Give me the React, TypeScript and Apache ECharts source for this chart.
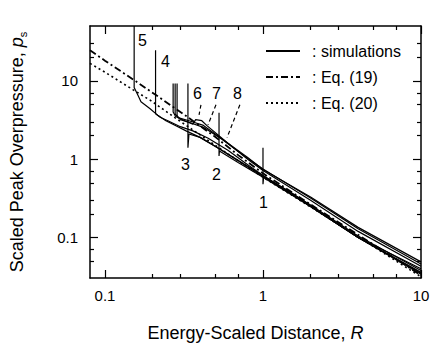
import React, { useEffect, useRef } from "react";
import * as echarts from "echarts";

// ---------- data (R = energy-scaled distance, P = scaled peak overpressure) ----------
const X_TICKS = [0.1, 1, 10];
const X_TICK_LABELS = ["0.1", "1", "10"];
const X_MINOR = [0.2, 0.3, 0.5, 0.7, 2, 3, 5, 7];
const Y_TICKS = [0.1, 1, 10];
const Y_TICK_LABELS = ["0.1", "1", "10"];
const Y_MINOR = [0.05, 0.07, 0.2, 0.3, 0.5, 0.7, 2, 3, 5, 7, 20, 30];
const R_RANGE = [0.0804, 10];
const P_RANGE = [0.0305, 50.1];

const EQ19 = [
  [0.0804, 24.5], [0.1, 18.1], [0.157, 9.85], [0.216, 6.35], [0.32, 3.66], [0.5, 1.92],
  [0.7, 1.12], [1, 0.66], [2, 0.265], [3, 0.157], [5, 0.0815], [7, 0.0526], [10, 0.033],
];
const EQ20 = [
  [0.0804, 16.7], [0.1, 12.9], [0.15, 7.73], [0.195, 5.6], [0.277, 3.39], [0.4, 2.04],
  [0.6, 1.17], [1, 0.59], [2, 0.246], [3, 0.1475], [5, 0.0769], [10, 0.0316],
];
const SIM1 = [[1, 1.4], [1, 0.48], [1.01, 0.6], [1.5, 0.38], [2, 0.255], [4, 0.1], [10, 0.034]];
const SIM2 = [[0.527, 3.92], [0.527, 1.1], [0.53, 1.27], [0.7, 0.9], [1, 0.59], [2, 0.25], [4, 0.1], [10, 0.035]];
const SIM3 = [[0.335, 9.25], [0.335, 1.4], [0.34, 2.1], [0.4, 1.9], [0.5, 1.45], [0.7, 0.95], [1, 0.6], [2, 0.25], [4, 0.1], [10, 0.036]];
const SIM4 = [[0.209, 24.5], [0.209, 3.8], [0.225, 3.4], [0.25, 3.1], [0.3, 2.6], [0.36, 2.3], [0.45, 1.85], [0.6, 1.3], [0.8, 0.85], [1, 0.62], [2, 0.26], [4, 0.105], [10, 0.038]];
const SIM5 = [[0.153, 50.1], [0.153, 8.2], [0.162, 6.5], [0.169, 5.4], [0.193, 4.4], [0.217, 3.6], [0.243, 3.1], [0.281, 2.67], [0.326, 2.3], [0.4, 1.9], [0.55, 1.3], [0.75, 0.88], [1, 0.62], [2, 0.25], [4, 0.1], [10, 0.04]];
const SIM6 = [[0.27, 9.25], [0.27, 4.0], [0.28, 3.5], [0.32, 3.1], [0.36, 2.8], [0.375, 3.2], [0.41, 3.1], [0.44, 2.7], [0.6, 1.6], [0.8, 1.0], [1, 0.72], [2, 0.3], [4, 0.12], [10, 0.043]];
const SIM7 = [[0.286, 9.25], [0.286, 3.6], [0.3, 3.2], [0.35, 2.9], [0.42, 2.55], [0.55, 1.8], [0.73, 1.17], [1, 0.75], [2, 0.32], [4, 0.13], [10, 0.046]];
const SIM8 = [[0.278, 9.25], [0.278, 3.8], [0.29, 3.4], [0.34, 3.1], [0.42, 2.7], [0.6, 1.6], [0.8, 1.05], [1, 0.74], [2, 0.33], [4, 0.135], [10, 0.049]];
const SIMS = [SIM1, SIM2, SIM3, SIM4, SIM5, SIM6, SIM7, SIM8];

const CURVE_LABELS = [
  [0.174, 31.9, "5"], [0.243, 17.2, "4"], [0.388, 6.87, "6"], [0.512, 6.87, "7"], [0.695, 6.87, "8"],
  [0.326, 0.84, "3"], [0.512, 0.63, "2"], [1.014, 0.275, "1"],
];
const LEADERS = [
  [[0.405, 4.95], [0.394, 3.69]],
  [[0.504, 4.95], [0.449, 2.74]],
  [[0.714, 4.95], [0.592, 1.88]],
];

const FONT = "'Liberation Sans', Arial, Helvetica, sans-serif";
const L = (v: number) => Math.log10(v);
const tr = (pts: number[][]) => pts.map(([r, p]) => [L(r), L(p)]);

export default function App() {
  const ref = useRef<HTMLDivElement>(null);
  useEffect(() => {
    if (!ref.current) return;
    const chart = echarts.init(ref.current, undefined, { renderer: "svg" });
    const xMin = L(R_RANGE[0]), xMax = L(R_RANGE[1]);
    const yMin = L(P_RANGE[0]), yMax = L(P_RANGE[1]);
    const xFmt = (v: number) => {
      const i = X_TICKS.findIndex((t) => Math.abs(L(t) - v) < 1e-6);
      return i >= 0 ? X_TICK_LABELS[i] : "";
    };
    const yFmt = (v: number) => {
      const i = Y_TICKS.findIndex((t) => Math.abs(L(t) - v) < 1e-6);
      return i >= 0 ? Y_TICK_LABELS[i] : "";
    };
    const line = { lineStyle: { color: "#000", width: 1.5 } };
    const tickStyle = { color: "#000", width: 1.2 };
    const mkX = (pos: string, major: boolean, extra: any = {}) => ({
      type: "value", position: pos, min: xMin, max: xMax,
      axisLine: { show: major, onZero: false, ...line },
      axisTick: { show: true, inside: true, length: major ? 8 : 4, customValues: major ? X_TICKS.map(L) : X_MINOR.map(L), lineStyle: tickStyle },
      axisLabel: { show: false },
      splitLine: { show: false },
      ...extra,
    });
    const mkY = (pos: string, major: boolean, extra: any = {}) => ({
      type: "value", position: pos, min: yMin, max: yMax,
      axisLine: { show: major, onZero: false, ...line },
      axisTick: { show: true, inside: true, length: major ? 8 : 4, customValues: major ? Y_TICKS.map(L) : Y_MINOR.map(L), lineStyle: tickStyle },
      axisLabel: { show: false },
      splitLine: { show: false },
      ...extra,
    });
    const simSeries = SIMS.map((s) => ({
      type: "line", name: "simulations", data: tr(s), symbol: "none",
      itemStyle: { color: "#000" },
      lineStyle: { color: "#000", width: 1.2 }, z: 3,
    }));
    const leaderSeries = LEADERS.map((s) => ({
      type: "line", name: "leader", data: tr(s), symbol: "none",
      itemStyle: { color: "#000" },
      lineStyle: { color: "#000", width: 1.2, type: [4, 3] },
    }));
    chart.setOption({
      animation: false,
      color: ["#000"],
      grid: { left: 90, top: 26, right: 12, bottom: 73, containLabel: false },
      legend: {
        data: ["simulations", "Eq. (19)", "Eq. (20)"],
        orient: "vertical", left: 260, top: 38, itemWidth: 34, itemHeight: 14, itemGap: 10,
        itemStyle: { opacity: 0 },
        formatter: (n: string) => ": " + n,
        textStyle: { fontFamily: FONT, fontSize: 16, color: "#000", padding: [0, 0, 0, 7] },
      },
      xAxis: [
        mkX("bottom", true, {
          axisLabel: { show: true, customValues: X_TICKS.map(L), formatter: xFmt, margin: 10, fontSize: 15, color: "#000", fontFamily: FONT },
          name: "Energy-Scaled Distance, {i|R}", nameLocation: "middle", nameGap: 46,
          nameTextStyle: { fontSize: 18, color: "#000", fontFamily: FONT, rich: { i: { fontSize: 18, fontStyle: "italic", color: "#000", fontFamily: FONT } } },
        }),
        mkX("bottom", false),
        mkX("top", true),
        mkX("top", false),
      ],
      yAxis: [
        mkY("left", true, {
          axisLabel: { show: true, customValues: Y_TICKS.map(L), formatter: yFmt, margin: 12, fontSize: 15, color: "#000", fontFamily: FONT },
          name: "Scaled Peak Overpressure, {i|p}{s|s}", nameLocation: "middle", nameGap: 62,
          nameTextStyle: {
            fontSize: 18, color: "#000", fontFamily: FONT,
            rich: {
              i: { fontSize: 18, fontStyle: "italic", color: "#000", fontFamily: FONT, lineHeight: 22 },
              s: { fontSize: 11, color: "#000", fontFamily: FONT, verticalAlign: "bottom", lineHeight: 22 },
            },
          },
        }),
        mkY("left", false),
        mkY("right", true),
        mkY("right", false),
      ],
      series: [
        ...simSeries,
        { type: "line", name: "Eq. (19)", data: tr(EQ19), symbol: "none", itemStyle: { color: "#000" }, lineStyle: { color: "#000", width: 1.8, type: [7, 3, 2, 3] }, z: 4 },
        { type: "line", name: "Eq. (20)", data: tr(EQ20), symbol: "none", itemStyle: { color: "#000" }, lineStyle: { color: "#000", width: 1.6, type: [2, 3] }, z: 4 },
        ...leaderSeries,
        {
          type: "scatter", name: "labels", symbolSize: 1, itemStyle: { color: "rgba(0,0,0,0)" },
          data: CURVE_LABELS.map(([r, p, t]) => [L(r as number), L(p as number), t]),
          label: {
            show: true, position: [0, 0], align: "center", verticalAlign: "middle",
            formatter: (p: any) => p.data[2], fontSize: 16, color: "#000", fontFamily: FONT,
            textBorderWidth: 0, opacity: 1,
          },
          labelLayout: { hideOverlap: false },
          z: 5,
        },
      ],
    });
    return () => chart.dispose();
  }, []);
  return <div ref={ref} style={{ position: "fixed", left: 0, top: 0, width: 433, height: 351, background: "#fff" }} />;
}
